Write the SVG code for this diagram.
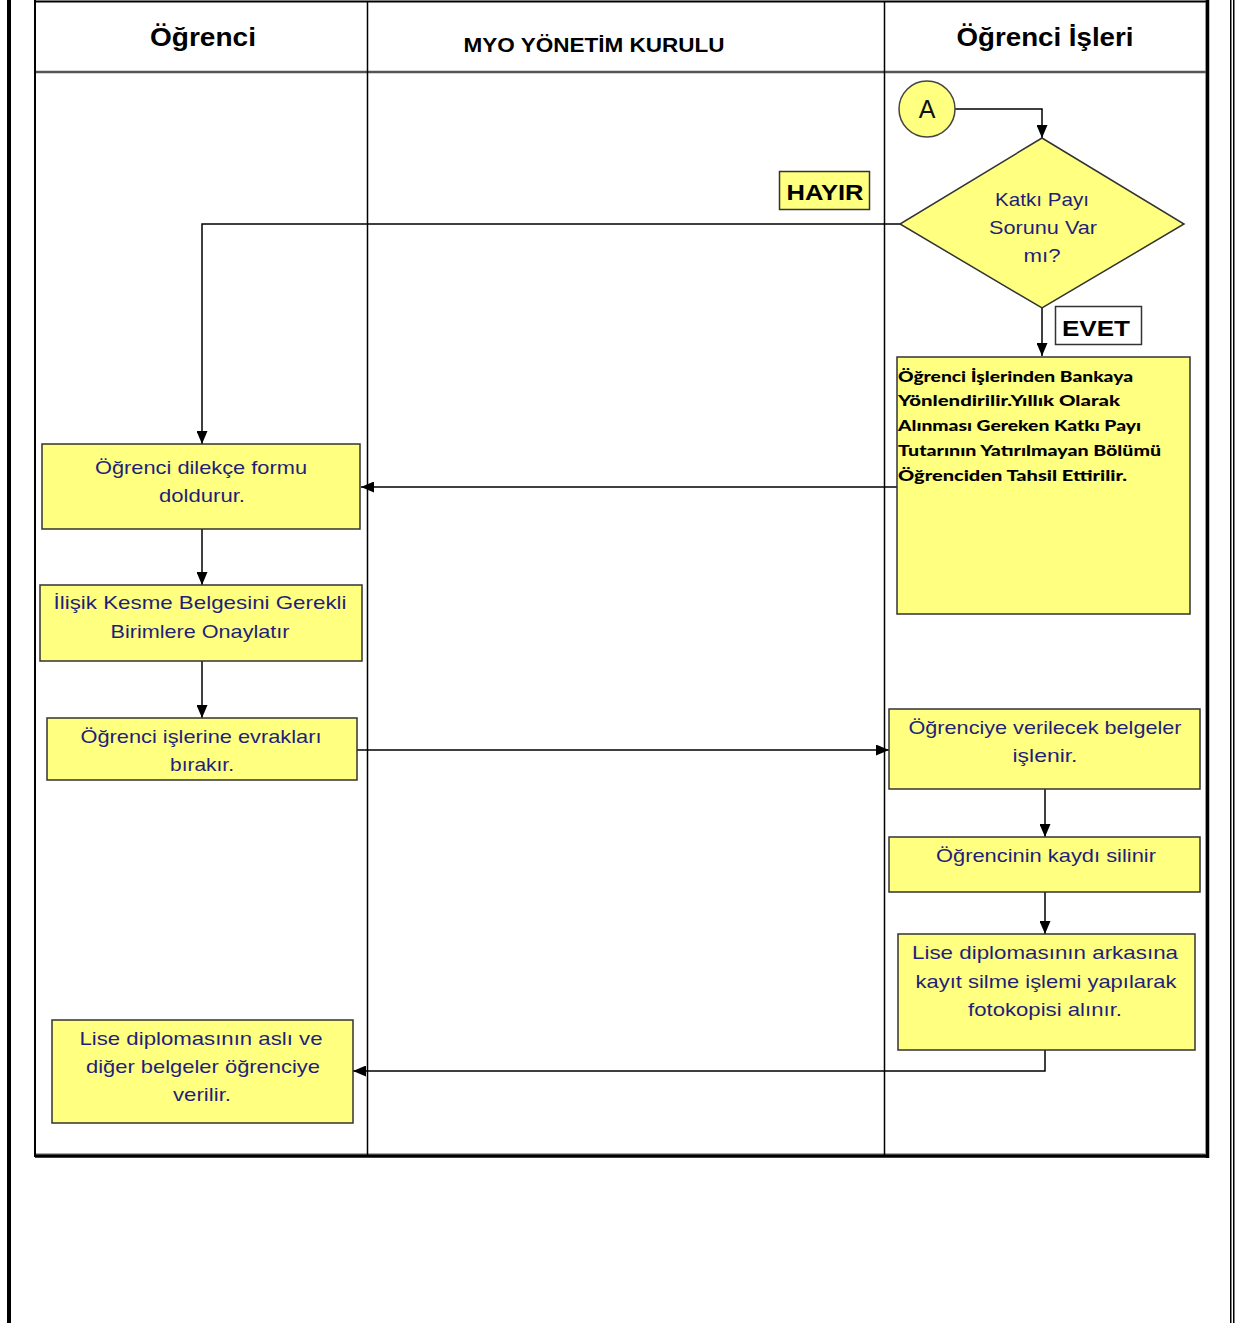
<svg xmlns="http://www.w3.org/2000/svg" width="1235" height="1323" viewBox="0 0 1235 1323">
<style>
.box{fill:#FFFF80;stroke:#333;stroke-width:1.5}
.t{font-family:"Liberation Sans",Arial,sans-serif;font-size:19px;fill:#1F1F7A;text-anchor:middle}
.h{font-family:"Liberation Sans",Arial,sans-serif;font-weight:bold;fill:#000;text-anchor:middle}
.b{font-family:Lato,"DejaVu Sans",sans-serif;font-weight:900;font-size:15px;fill:#000}
.c{fill:none;stroke:#000;stroke-width:1.5}
</style>
<defs>
<marker id="ah" viewBox="0 0 13 11" refX="13" refY="5.5" markerWidth="13" markerHeight="11" markerUnits="userSpaceOnUse" orient="auto">
<path d="M0,0 L13,5.5 L0,11 z" fill="#000"/>
</marker>
</defs>
<rect width="1235" height="1323" fill="#fff"/>
<g id="frame">
<rect x="7" y="0" width="4" height="1323" fill="#000"/>
<rect x="1230" y="0" width="1.5" height="1323" fill="#000"/>
<rect x="1233" y="0" width="1.5" height="1323" fill="#000"/>
<line x1="35" y1="1.5" x2="1208" y2="1.5" stroke="#000" stroke-width="2"/>
<line x1="35" y1="0" x2="35" y2="1157" stroke="#000" stroke-width="2"/>
<line x1="1207.5" y1="0" x2="1207.5" y2="1158" stroke="#000" stroke-width="3.5"/>
<line x1="1205.5" y1="3" x2="1205.5" y2="1154" stroke="#999" stroke-width="1"/>
<line x1="35" y1="1156" x2="1209" y2="1156" stroke="#000" stroke-width="3.5"/>
<line x1="36" y1="1153.5" x2="1206" y2="1153.5" stroke="#aaa" stroke-width="1"/>
<line x1="36" y1="72" x2="1206" y2="72" stroke="#555" stroke-width="2.5"/>
<line x1="367.5" y1="2" x2="367.5" y2="1155" stroke="#000" stroke-width="1.5"/>
<line x1="884.5" y1="2" x2="884.5" y2="1155" stroke="#000" stroke-width="1.5"/>
<text class="h" x="203" y="46" font-size="26" textLength="106" lengthAdjust="spacingAndGlyphs">Öğrenci</text>
<text class="h" x="594" y="52" font-size="20" textLength="261" lengthAdjust="spacingAndGlyphs">MYO YÖNETİM KURULU</text>
<text class="h" x="1045" y="46" font-size="26" textLength="177" lengthAdjust="spacingAndGlyphs">Öğrenci İşleri</text>
</g>
<g id="connectors">
<polyline class="c" points="955,109 1042,109 1042,138" marker-end="url(#ah)"/>
<polyline class="c" points="900,224 202,224 202,444" marker-end="url(#ah)"/>
<line class="c" x1="1042" y1="308" x2="1042" y2="356" marker-end="url(#ah)"/>
<line class="c" x1="897" y1="487" x2="361" y2="487" marker-end="url(#ah)"/>
<line class="c" x1="202" y1="529" x2="202" y2="585" marker-end="url(#ah)"/>
<line class="c" x1="202" y1="661" x2="202" y2="718" marker-end="url(#ah)"/>
<line class="c" x1="357" y1="750" x2="889" y2="750" marker-end="url(#ah)"/>
<line class="c" x1="1045" y1="789" x2="1045" y2="837" marker-end="url(#ah)"/>
<line class="c" x1="1045" y1="892" x2="1045" y2="934" marker-end="url(#ah)"/>
<polyline class="c" points="1045,1050 1045,1071 353,1071" marker-end="url(#ah)"/>
</g>
<g id="nodeA">
<circle cx="927" cy="109" r="28" fill="#FFFF80" stroke="#444" stroke-width="1.5"/>
<text x="927" y="118" style="font-family:'Liberation Sans',Arial,sans-serif;font-size:25px;fill:#111;text-anchor:middle">A</text>
</g>
<g id="decision">
<polygon points="1042,138 1184,224 1042,308 900,224" fill="#FFFF80" stroke="#333" stroke-width="1.5"/>
<text class="t" x="1042" y="206" textLength="94" lengthAdjust="spacingAndGlyphs">Katkı Payı</text>
<text class="t" x="1043" y="234" textLength="108" lengthAdjust="spacingAndGlyphs">Sorunu Var</text>
<text class="t" x="1042" y="262" textLength="37" lengthAdjust="spacingAndGlyphs">mı?</text>
</g>
<g id="hayir">
<rect x="779.5" y="171.5" width="90" height="38" fill="#FFFF80" stroke="#333" stroke-width="1.5"/>
<text class="h" x="825" y="200" font-size="22" textLength="77" lengthAdjust="spacingAndGlyphs">HAYIR</text>
</g>
<g id="evet">
<rect x="1055.5" y="306.5" width="86" height="38" fill="#fff" stroke="#333" stroke-width="1.5"/>
<text class="h" x="1096" y="336" font-size="22" textLength="68" lengthAdjust="spacingAndGlyphs">EVET</text>
</g>
<g id="banka">
<rect class="box" x="897" y="357" width="293" height="257"/>
<text class="b" x="898" y="382" textLength="235" lengthAdjust="spacingAndGlyphs">Öğrenci İşlerinden Bankaya</text>
<text class="b" x="898" y="406" textLength="222" lengthAdjust="spacingAndGlyphs">Yönlendirilir.Yıllık Olarak</text>
<text class="b" x="898" y="431" textLength="243" lengthAdjust="spacingAndGlyphs">Alınması Gereken Katkı Payı</text>
<text class="b" x="898" y="456" textLength="263" lengthAdjust="spacingAndGlyphs">Tutarının Yatırılmayan Bölümü</text>
<text class="b" x="898" y="481" textLength="229" lengthAdjust="spacingAndGlyphs">Öğrenciden Tahsil Ettirilir.</text>
</g>
<g id="dilekce">
<rect class="box" x="42" y="444" width="318" height="85"/>
<text class="t" x="201" y="474" textLength="212" lengthAdjust="spacingAndGlyphs">Öğrenci dilekçe formu</text>
<text class="t" x="202" y="502" textLength="86" lengthAdjust="spacingAndGlyphs">doldurur.</text>
</g>
<g id="ilisik">
<rect class="box" x="40" y="585" width="322" height="76"/>
<text class="t" x="200" y="609" textLength="293" lengthAdjust="spacingAndGlyphs">İlişik Kesme Belgesini Gerekli</text>
<text class="t" x="200" y="638" textLength="179" lengthAdjust="spacingAndGlyphs">Birimlere Onaylatır</text>
</g>
<g id="evrak">
<rect class="box" x="47" y="718" width="310" height="62"/>
<text class="t" x="201" y="743" textLength="241" lengthAdjust="spacingAndGlyphs">Öğrenci işlerine evrakları</text>
<text class="t" x="202" y="771" textLength="64" lengthAdjust="spacingAndGlyphs">bırakır.</text>
</g>
<g id="islenir">
<rect class="box" x="889" y="709" width="311" height="80"/>
<text class="t" x="1045" y="734" textLength="273" lengthAdjust="spacingAndGlyphs">Öğrenciye verilecek belgeler</text>
<text class="t" x="1045" y="762" textLength="65" lengthAdjust="spacingAndGlyphs">işlenir.</text>
</g>
<g id="kayit">
<rect class="box" x="889" y="837" width="311" height="55"/>
<text class="t" x="1046" y="862" textLength="220" lengthAdjust="spacingAndGlyphs">Öğrencinin kaydı silinir</text>
</g>
<g id="fotokopi">
<rect class="box" x="898" y="934" width="297" height="116"/>
<text class="t" x="1045" y="959" textLength="266" lengthAdjust="spacingAndGlyphs">Lise diplomasının arkasına</text>
<text class="t" x="1046" y="988" textLength="261" lengthAdjust="spacingAndGlyphs">kayıt silme işlemi yapılarak</text>
<text class="t" x="1045" y="1016" textLength="154" lengthAdjust="spacingAndGlyphs">fotokopisi alınır.</text>
</g>
<g id="verilir">
<rect class="box" x="52" y="1020" width="301" height="103"/>
<text class="t" x="201" y="1045" textLength="243" lengthAdjust="spacingAndGlyphs">Lise diplomasının aslı ve</text>
<text class="t" x="203" y="1073" textLength="234" lengthAdjust="spacingAndGlyphs">diğer belgeler öğrenciye</text>
<text class="t" x="202" y="1101" textLength="58" lengthAdjust="spacingAndGlyphs">verilir.</text>
</g>
</svg>
